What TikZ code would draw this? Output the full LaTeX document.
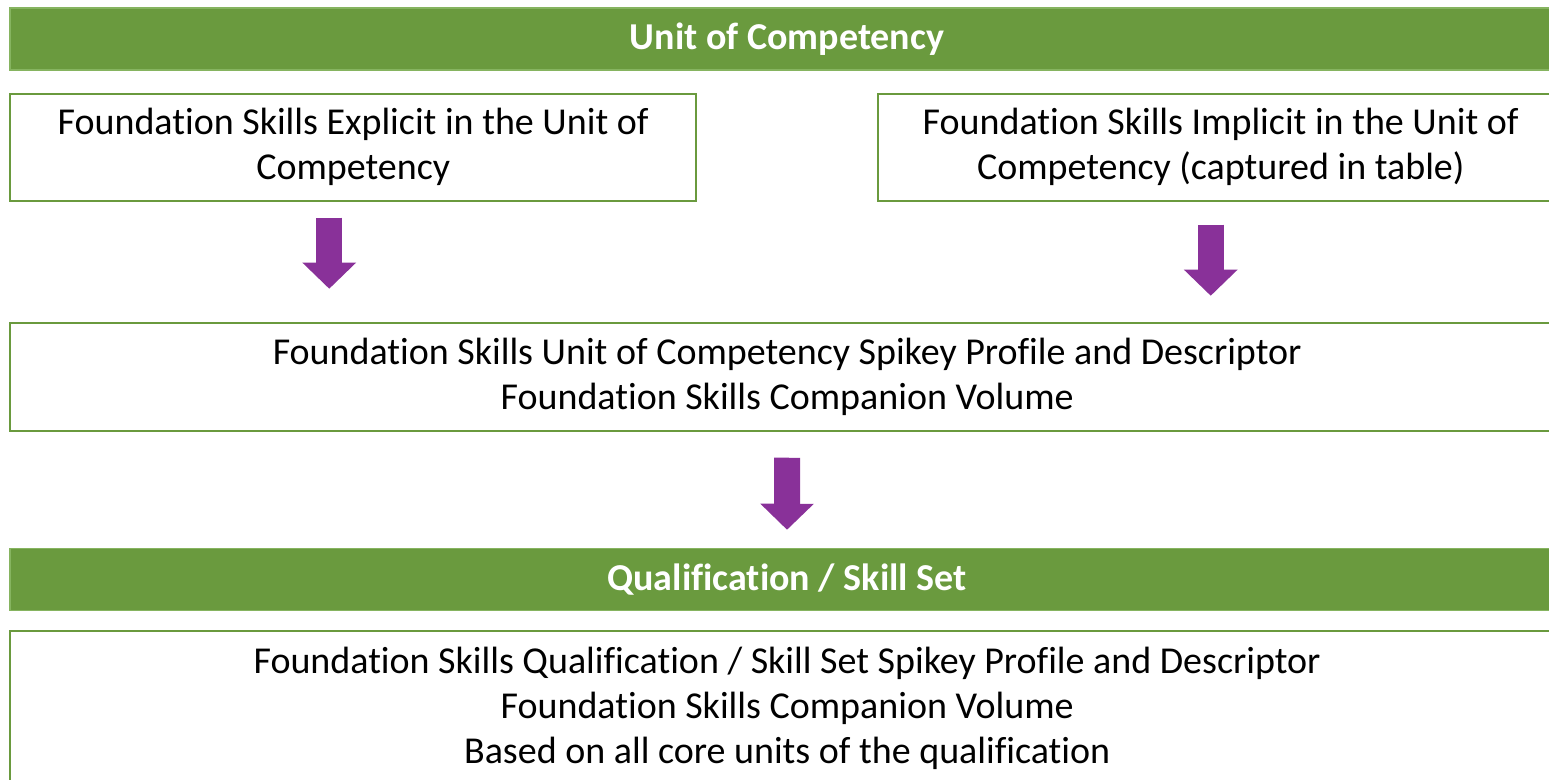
\documentclass[tikz,border=0pt]{standalone}
\usepackage{fontspec}
\setmainfont{Carlito}[Ligatures=NoCommon]
\usetikzlibrary{positioning,arrows.meta}
\definecolor{bargreen}{RGB}{106,154,62}
\definecolor{barline}{RGB}{134,180,96}
\definecolor{arrowpurple}{RGB}{137,49,153}
\begin{document}
\begin{tikzpicture}[
        bar/.style={rectangle, draw=barline, line width=0.75pt, fill=bargreen, text=white, minimum width=777pt, minimum height=31pt, font=\fontsize{19}{22.5}\selectfont\bfseries},
        box/.style={rectangle, draw=bargreen, line width=1pt, fill=white, align=center, minimum height=53.5pt, inner sep=0pt, font=\fontsize{19}{22.5}\selectfont},
        flow/.style={draw=arrowpurple, line width=13pt, -{Triangle[width=26pt,length=13pt]}}
      ]
        \clip (-393.5pt,19.5pt) rectangle (381pt,-370.5pt);
        \fill[white] (-393.5pt,19.5pt) rectangle (381pt,-370.5pt);

        % Unit level
        \node[bar] (compbar) at (0,0) {Unit of Competency};
        \node[box, minimum width=343pt, below right=11pt and 0pt of compbar.south west] (explicit) {Foundation Skills Explicit in the Unit of\\Competency};
        \node[box, minimum width=343pt, below left=11pt and 0pt of compbar.south east] (implicit) {Foundation Skills Implicit in the Unit of\\Competency (captured in table)};

        % Spikey profile
        \node[box, minimum width=777pt, minimum height=54pt, below right=60pt and 0pt of explicit.south west] (spine) {Foundation Skills Unit of Competency Spikey Profile and Descriptor\\Foundation Skills Companion Volume};

        % Qualification level
        \node[bar, below right=58pt and 0pt of spine.south west] (qualbar) {Qualification / Skill Set};
        \node[box, minimum width=777pt, minimum height=77pt, below right=9.5pt and 0pt of qualbar.south west] (qualbox) {Foundation Skills Qualification / Skill Set Spikey Profile and Descriptor\\Foundation Skills Companion Volume\\Based on all core units of the qualification};

        % Arrows
        \draw[flow, shorten <=8pt, shorten >=16.5pt] ([xshift=-12pt]explicit.south) -- ([xshift=-12pt]explicit.south |- spine.north);
        \draw[flow, shorten <=11.5pt, shorten >=13pt] ([xshift=-5pt]implicit.south) -- ([xshift=-5pt]implicit.south |- spine.north);
        \draw[flow, shorten <=13pt, shorten >=9pt] (spine.south) -- (qualbar.north);
      \end{tikzpicture}
\end{document}
